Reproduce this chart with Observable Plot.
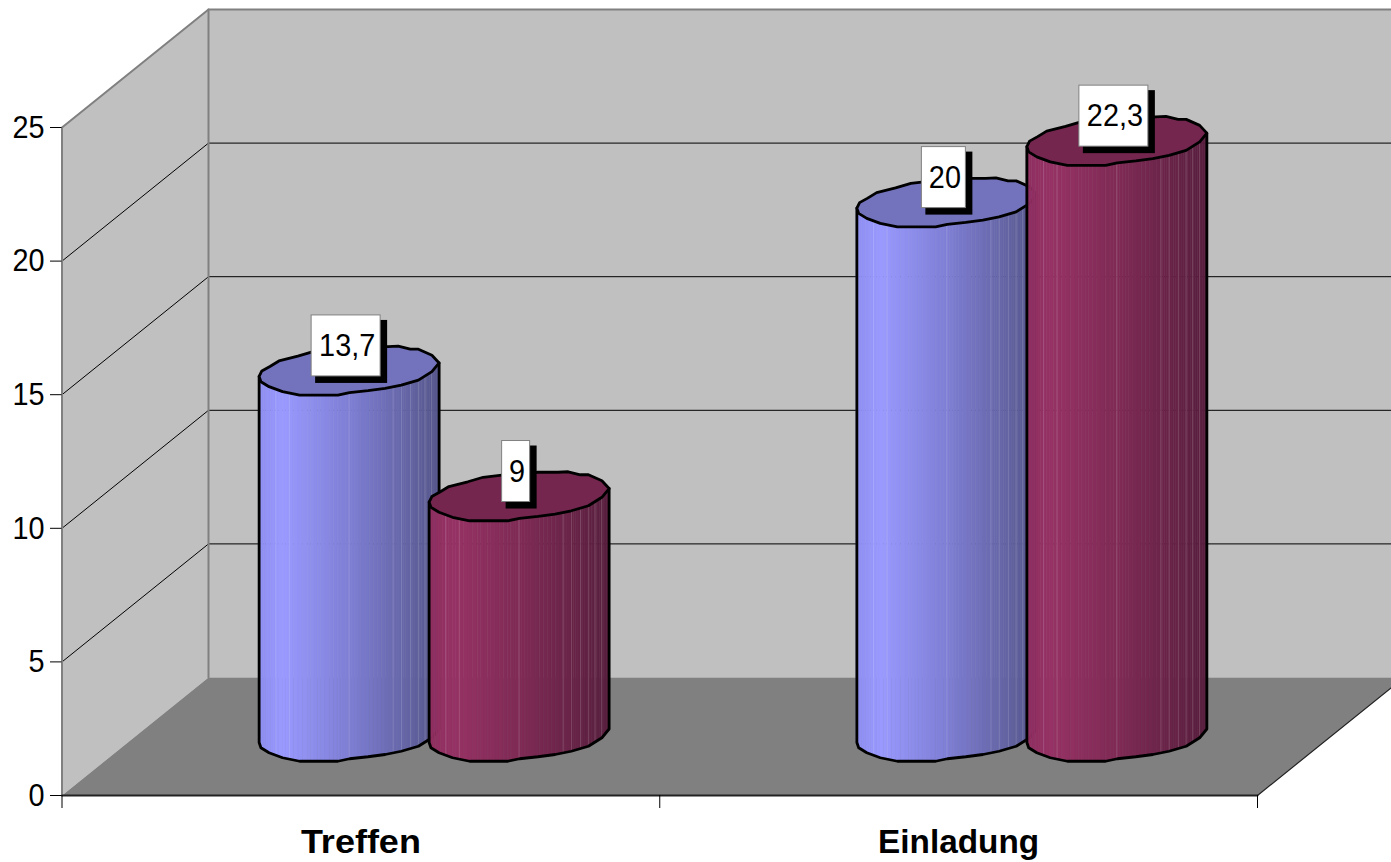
<!DOCTYPE html>
<html>
<head>
<meta charset="utf-8">
<script src="https://cdn.jsdelivr.net/npm/d3@7"></script>
<script src="https://cdn.jsdelivr.net/npm/@observablehq/plot@0.6"></script>
<style>
html, body { margin: 0; padding: 0; background: #fff; overflow: hidden; }
</style>
</head>
<body>
<div id="chart"></div>
<script>
// Chart values
const categories = ["Treffen", "Einladung"];
const firstSeries = [13.7, 20];
const secondSeries = [9, 22.3];
const valueTicks = [0, 5, 10, 15, 20, 25];
const gridValues = [5, 10, 15, 20];

// Scale calibration: pixels per category and per value unit on the front plane
const pxPerCategory = 597.75;
const pxPerValue = 26.72;
const toX = px => px / pxPerCategory;
const toY = px => px / pxPerValue;

// Oblique projection of the box depth, expressed in scale units
const depthX = toX(146.5);
const depthY = toY(118);
const cylinderRadius = toX(90);
const rimRadius = toY(25);
const seriesGap = toX(85);

// Faceted rim of the cylinder: [across, towards the viewer], both relative to the radius
const rimFront = [[-1, .24], [-.98, .45], [-.89, .65], [-.74, .85], [-.55, .99], [-.125, .99], [.005, .89],
  [.21, .81], [.40, .72], [.58, .59], [.77, .39], [.92, .05], [1, -.3]];
const rimBack = [[1, -.3], [.92, -.61], [.77, -.85], [.68, -.85], [.545, -.97], [.43, -.95], [.21, -.95],
  [-.09, -.88], [-.40, -.75], [-.57, -.57], [-.78, -.38], [-.88, -.16], [-.97, .02]];

// Facet boundaries round the cylinder, from left to right, and the ones that show a light seam
const facets = [0, .037, .093, .168, .27, .345, .438, .5, .568, .661, .745, .791, .842, .885, .922, .959, 1];
const seams = [.093, .168, .5, .745, .791, .842, .885, .922, .959];

const palettes = [
  {shade: d3.scaleLinear().domain([0, .14, .5, 1]).range(["#8f8ff2", "#9999ff", "#7f7fd6", "#56568c"]), top: "#7272bd"},
  {shade: d3.scaleLinear().domain([0, .14, .5, 1]).range(["#8f2f60", "#963265", "#802b56", "#591f3e"]), top: "#74264f"}
];

const frontEdge = d3.scaleLinear().domain(rimFront.map(d => d[0])).range(rimFront.map(d => d[1]));

function cylinder(category, seriesIndex, value) {
  const cx = category + .5 + depthX / 2 + (seriesIndex ? seriesGap : -seriesGap);
  const base = depthY / 2;
  const top = base + value;
  const palette = palettes[seriesIndex];
  const px = f => cx + f * cylinderRadius;
  const py = (level, f) => level - f * rimRadius;

  // Shaded body, one narrow band per slice of each facet
  const bands = [];
  facets.slice(1).forEach((end, i) => {
    const start = facets[i];
    for (let s = 0; s < 4; ++s) {
      const a = start + (end - start) * s / 4;
      const b = start + (end - start) * (s + 1) / 4;
      const fill = palette.shade((a + b) / 2);
      for (const f of [a, b]) {
        const u = 2 * f - 1;
        bands.push({band: `${i}-${s}`, fill, x: px(u), y1: py(base, frontEdge(u)), y2: py(top, frontEdge(u))});
      }
    }
  });

  const seamLines = seams.map(f => {
    const u = 2 * f - 1;
    return {x: px(u), y1: py(base, frontEdge(u)), y2: py(top, frontEdge(u))};
  });

  const outline = [
    [px(-1), py(top, rimFront[0][1])],
    ...rimFront.map(([u, v]) => [px(u), py(base, v)]),
    [px(1), py(top, rimFront[rimFront.length - 1][1])]
  ];
  const cap = [...rimFront, ...rimBack].map(([u, v]) => [px(u), py(top, v)]);

  return [
    Plot.areaY(bands, {x: "x", y1: "y1", y2: "y2", z: "band", fill: "fill", stroke: "fill", strokeWidth: .6}),
    Plot.ruleX(seamLines, {x: "x", y1: "y1", y2: "y2", stroke: "#fff", strokeOpacity: .15, strokeWidth: 1}),
    Plot.line(outline, {stroke: "#000", strokeWidth: 2.8, strokeLinejoin: "round"}),
    Plot.line(cap, {curve: "linear-closed", fill: palette.top, stroke: "#000", strokeWidth: 2.8, strokeLinejoin: "round"})
  ];
}

// Value flag above a cylinder: white box with a hard black drop shadow
function flags(rows) {
  const data = rows.map(({category, seriesIndex, value}) => {
    const text = String(value).replace(".", ",");
    const digits = text.replace(",", "").length;
    const width = 12 + 16 * digits + (text.includes(",") ? 9 : 0);
    const cx = category + .5 + depthX / 2 + (seriesIndex ? seriesGap : -seriesGap) + toX(-3);
    const cy = depthY / 2 + value + toY(24.5);
    return {text, cx, cy, half: toX(width / 2), mid: toY(30.5)};
  });
  return [
    Plot.rect(data, {x1: d => d.cx - d.half + toX(4), x2: d => d.cx + d.half + toX(7),
      y1: d => d.cy - d.mid - toY(7), y2: d => d.cy + d.mid - toY(5), fill: "#000"}),
    Plot.rect(data, {x1: d => d.cx - d.half, x2: d => d.cx + d.half,
      y1: d => d.cy - d.mid, y2: d => d.cy + d.mid, fill: "#fff", stroke: "#808080", strokeWidth: 1}),
    Plot.text(data, {x: d => d.cx + toX(1), y: "cy", text: "text", fontSize: 32, fill: "#000"})
  ];
}

const rows = categories.flatMap((_, i) => [
  {category: i, seriesIndex: 0, value: firstSeries[i]},
  {category: i, seriesIndex: 1, value: secondSeries[i]}
]);

const wallTop = 25 + depthY;
const farRight = categories.length + depthX;

const plot = Plot.plot({
  width: 1391,
  height: 862,
  marginLeft: 61.5,
  marginRight: 134,
  marginTop: 127,
  marginBottom: 67,
  x: {domain: [0, categories.length], axis: null},
  y: {domain: [0, 25], axis: null},
  color: {type: "identity"},
  style: {fontFamily: "'Liberation Sans', Arial, sans-serif", background: "#fff", color: "#000", display: "block", maxWidth: "none"},
  marks: [
    // Side wall, back wall and floor of the box
    Plot.line([[0, 0], [0, 25], [depthX, wallTop], [depthX, depthY]], {curve: "linear-closed", fill: "#c0c0c0", stroke: "none"}),
    Plot.line([[depthX, depthY], [depthX, wallTop], [farRight, wallTop], [farRight, depthY]], {curve: "linear-closed", fill: "#c0c0c0", stroke: "none"}),
    Plot.line([[0, 0], [depthX, depthY], [farRight, depthY], [categories.length, 0]], {curve: "linear-closed", fill: "#808080", stroke: "none"}),

    // Gridlines turn the corner from the side wall onto the back wall
    ...gridValues.flatMap(v => [
      Plot.line([[0, v], [depthX, v + depthY], [farRight, v + depthY]], {stroke: "#000", strokeWidth: 1})
    ]),

    // Wall edges
    Plot.line([[0, 0], [0, 25], [depthX, wallTop], [farRight, wallTop]], {stroke: "#808080", strokeWidth: 2}),
    Plot.line([[depthX, wallTop], [depthX, depthY]], {stroke: "#808080", strokeWidth: 2}),
    Plot.line([[categories.length, 0], [farRight, depthY]], {stroke: "#222", strokeWidth: 1.2}),
    Plot.line([[0, 0], [categories.length, 0]], {stroke: "#222", strokeWidth: 1.8}),

    // Axes
    Plot.axisY({ticks: valueTicks, tickSize: 11.5, tickPadding: 6, fontSize: 32, label: null}),
    Plot.ruleX(d3.range(categories.length + 1), {y1: 0, y2: toY(-13), stroke: "#000", strokeWidth: 1}),
    Plot.axisX({ticks: categories.map((_, i) => i + .5), tickSize: 0, tickPadding: 33, fontSize: 34, fontWeight: "bold",
      tickFormat: d => categories[Math.floor(d)], label: null}),

    ...rows.flatMap(r => cylinder(r.category, r.seriesIndex, r.value)),
    ...flags(rows)
  ]
});

document.getElementById("chart").append(plot);

// The numerals are set slightly condensed; category names are fitted to their measured widths
const condensed = .9;
plot.querySelectorAll('g[aria-label="y-axis tick label"] text, g[aria-label="text"] text').forEach(t => {
  t.setAttribute("textLength", t.getComputedTextLength() * condensed);
  t.setAttribute("lengthAdjust", "spacingAndGlyphs");
});
const categoryWidths = {Treffen: 120, Einladung: 161};
plot.querySelectorAll('g[aria-label="x-axis tick label"] text').forEach(t => {
  const w = categoryWidths[t.textContent];
  if (w) {
    t.setAttribute("textLength", w);
    t.setAttribute("lengthAdjust", "spacingAndGlyphs");
  }
});
</script>
</body>
</html>
